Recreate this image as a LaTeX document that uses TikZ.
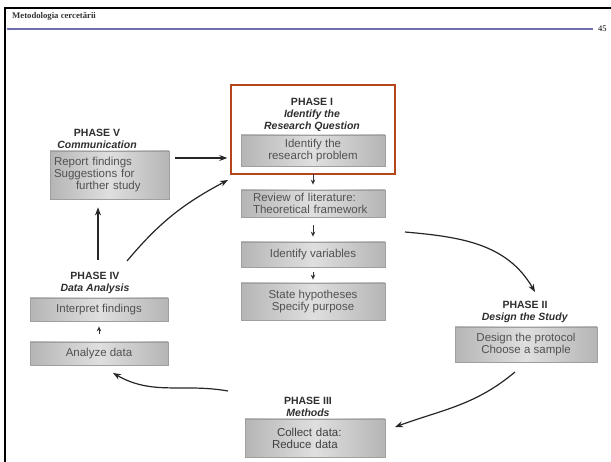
\documentclass[tikz,border=0pt]{standalone}
\usepackage{fontspec}
\setmainfont{Liberation Serif}
\setsansfont{Liberation Sans}
\usetikzlibrary{arrows.meta,positioning,calc}
\definecolor{rulecol}{RGB}{110,110,175}
\definecolor{framered}{RGB}{180,70,30}

\begin{document}
\begin{tikzpicture}[x=1pt, y=-1pt,
  stepbox/.style={draw=gray!75, line width=0.8pt, left color=gray!58, right color=gray!58, middle color=gray!25,
    text=black!68, inner sep=0pt, align=center, font=\sffamily\fontsize{11.5}{12}\selectfont},
  phasetitle/.style={align=center, inner sep=0pt, text=black!82, font=\sffamily\bfseries\fontsize{10.5}{12}\selectfont},
  flow/.style={line width=1.2pt, black!85, -{Stealth[length=8pt,width=6pt]}},
  stub/.style={line width=0.7pt, black!80, -{Stealth[length=5pt,width=4.5pt]}, shorten <=8pt, shorten >=5pt}]
\useasboundingbox (0,0) rectangle (611,462);

% page frame
\draw[line width=2pt] (5,462) -- (5,8) -- (611,8);
\node[anchor=base west, inner sep=0pt, text=black!80, font=\bfseries\fontsize{8.7}{10}\selectfont] (header) at (12,19) {Metodologia cercetării};
\node[anchor=base west, inner sep=0pt, font=\fontsize{8.5}{10}\selectfont] (pagenum) at (598,32) {45};
\coordinate (rulestart) at (8,29);
\fill[rulecol] (rulestart) circle (1.3);
\draw[rulecol, line width=1.1pt] (rulestart) -- ([xshift=-5pt]rulestart -| pagenum.west);

% Phase I
\node[draw=framered, line width=1.5pt, minimum width=164pt, minimum height=89pt, inner sep=0pt] (phase1) at (313,129.5) {};
\node[phasetitle] (p1title) at (312,115) {PHASE I\\\textit{Identify the}\\\textit{Research Question}};
\node[stepbox, minimum width=144pt, minimum height=31pt] (problem) at (313,150.5) {Identify the\\research problem};
\node[stepbox, minimum width=144pt, minimum height=27pt, text width=120pt, align=left] (review) at (313,203.5) {Review of literature:\\Theoretical framework};
\node[stepbox, minimum width=144pt, minimum height=25pt] (variables) at (313,254.5) {Identify variables};
\node[stepbox, minimum width=144pt, minimum height=37pt] (hypotheses) at (313,301.5) {State hypotheses\\Specify purpose};

% Phase II
\node[phasetitle] (p2title) at (525,311.5) {PHASE II\\\textit{Design the Study}};
\node[stepbox, minimum width=142pt, minimum height=35pt] (protocol) at (526,344.5) {Design the protocol\\Choose a sample};

% Phase III
\node[phasetitle] (p3title) at (308,407) {PHASE III\\\textit{Methods}};
\node[stepbox, minimum width=140pt, minimum height=38pt, text=black!75, text width=86pt, align=left] (collect) at (315,438) {\hspace*{5pt}Collect data:\\Reduce data};

% Phase IV
\node[phasetitle] (p4title) at (95,283) {PHASE IV\\\textit{Data Analysis}};
\node[stepbox, minimum width=138pt, minimum height=23pt] (interpret) at (99,309.5) {Interpret findings};
\node[stepbox, minimum width=138pt, minimum height=23pt] (analyze) at (99,353.5) {Analyze data};

% Phase V
\node[phasetitle] (p5title) at (97,138.5) {PHASE V\\\textit{Communication}};
\node[stepbox, minimum width=119pt, minimum height=48pt, text width=111pt, align=left] (report) at (109.5,175) {Report findings\\Suggestions for\\\hspace*{22pt}further study};

% free ends of the big arcs
\coordinate (c1a) at (405,232);
\coordinate (c1b) at (535,292);
\coordinate (c2a) at (515,372);
\coordinate (c2b) at (395,427);
\coordinate (c3a) at (228,391);
\coordinate (c3b) at (113,373);
\coordinate (c4a) at (127,261);
\coordinate (c4b) at (228,180);
\coordinate (up1) at (98,260);

% connections
\draw[stub] (problem) -- (review);
\draw[stub] (review) -- (variables);
\draw[stub, shorten <=5pt, shorten >=3pt] (variables) -- (hypotheses);
\draw[stub, shorten <=8pt, shorten >=5pt] (analyze) -- (interpret);
\draw[flow] (c1a) to[out=-5, in=120] (c1b);
\draw[flow] (c2a) to[out=220, in=20] (c2b);
\draw[flow] (c3a) to[out=170, in=-30] (c3b);
\draw[flow] (c4a) to[out=50, in=208] (c4b);
\draw[flow, shorten >=8pt] (up1) -- (up1 |- report.south);
\draw[flow, shorten <=6pt, shorten >=3pt] ([yshift=17pt]report.east) -- ([yshift=17pt]report.east -| phase1.west);
\end{tikzpicture}
\end{document}
